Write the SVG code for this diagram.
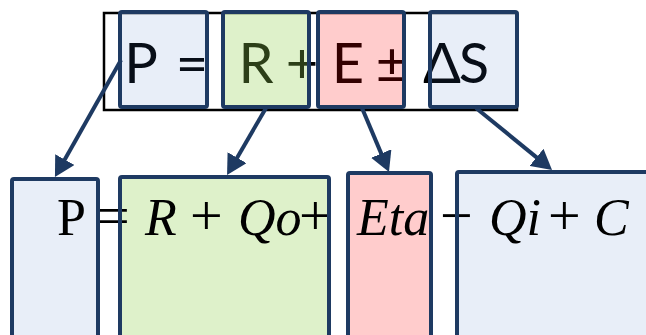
<svg xmlns="http://www.w3.org/2000/svg" width="646" height="335" viewBox="0 0 646 335">
<defs>
<style>
.box{stroke:#1e3a62;stroke-width:4}
.blue{fill:#4472c4;fill-opacity:0.12}
.green{fill:#92d050;fill-opacity:0.3}
.red{fill:#ff0000;fill-opacity:0.2}
.outline{fill:none;stroke:#1e3a62;stroke-width:4}
.top{font-family:Lato,"Noto Sans","Liberation Sans",sans-serif;font-size:56px;fill:#000;text-anchor:middle}
.eq{font-family:"Liberation Serif","DejaVu Serif",serif;font-size:52px;fill:#000}
.it{font-style:italic}
.op{font-size:58px}
.conn{stroke:#1e3a62;stroke-width:4;fill:none;marker-end:url(#ah)}
</style>
<marker id="ah" viewBox="0 -11 20 22" refX="2" refY="0" markerWidth="20" markerHeight="22" markerUnits="userSpaceOnUse" orient="auto">
<path d="M0,-11 L20,0 L0,11 z" fill="#1e3a62"/>
</marker>
</defs>
<rect width="646" height="335" fill="#fff"/>

<!-- top equation -->
<g id="top-equation">
<rect x="104" y="13" width="413" height="97" fill="#fff" stroke="#000" stroke-width="2.5"/>
<text class="top" y="83"><tspan x="141">P</tspan><tspan x="192">=</tspan><tspan x="256">R</tspan><tspan x="302">+</tspan><tspan x="348">E</tspan><tspan x="392">±</tspan><tspan x="442">Δ</tspan><tspan x="474">S</tspan></text>
</g>

<g id="connectors">
<path class="conn" d="M121,60 L63.8,161.3"/>
<path class="conn" d="M266,108 L236.1,159.4"/>
<path class="conn" d="M362,108 L382,155.4"/>
<path class="conn" d="M476,108 L538.1,158.6"/>
</g>

<g id="top-P"><rect class="box blue" x="120" y="12" width="87" height="95" rx="2"/></g>
<g id="top-R"><rect class="box green" x="223" y="12" width="86" height="95" rx="2"/></g>
<g id="top-E"><rect class="box red" x="318" y="12" width="86" height="95" rx="2"/></g>
<g id="top-dS"><rect class="box blue" x="430" y="12" width="87" height="95" rx="2"/></g>

<g id="bot-P"><rect class="blue" x="12" y="179" width="86" height="170"/></g>
<g id="bot-R"><rect class="green" x="120" y="177" width="209" height="170"/></g>
<g id="bot-E"><rect class="red" x="348" y="173" width="83" height="170"/></g>
<g id="bot-S"><rect class="blue" x="457" y="172" width="200" height="170"/></g>

<g id="bottom-equation">
<text class="eq" y="235"><tspan x="57">P</tspan><tspan x="97" class="op">=</tspan><tspan x="145" class="it">R</tspan><tspan x="190" class="op">+</tspan><tspan x="238" class="it">Qo</tspan><tspan x="299" class="op">+</tspan><tspan x="357" class="it">Eta</tspan><tspan x="440" class="op">−</tspan><tspan x="489" class="it">Qi</tspan><tspan x="548" class="op">+</tspan><tspan x="594" class="it">C</tspan></text>
</g>

<g id="bottom-outlines">
<rect class="outline" x="12" y="179" width="86" height="170" rx="2"/>
<rect class="outline" x="120" y="177" width="209" height="170" rx="2"/>
<rect class="outline" x="348" y="173" width="83" height="170" rx="2"/>
<rect class="outline" x="457" y="172" width="200" height="170" rx="2"/>
</g>
</svg>
